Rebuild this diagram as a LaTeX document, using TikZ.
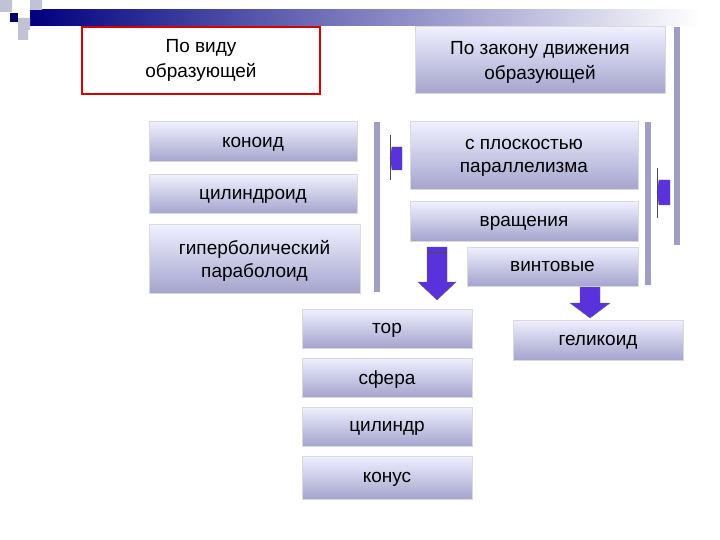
\documentclass[tikz,border=0pt]{standalone}
\usepackage{fontspec}
\setmainfont{Liberation Sans}
\definecolor{arr}{RGB}{90,50,220}
\begin{document}
\begin{tikzpicture}[x=1pt,y=-1pt,
 bx/.style={draw=white!70!gray,line width=1pt,top color=blue!6!white,bottom color=blue!30!gray!55!white,inner sep=0pt,font=\fontsize{19}{23}\selectfont,align=center,text depth=0pt},
 bar/.style={fill=blue!25!gray!60!white,draw=none},
 darr/.style={draw=black!60,fill=arr,line width=0.4pt}]
\useasboundingbox (0,0) rectangle (720,540);
% header decoration
\shade[left color=blue!50!black,right color=white] (30,10) rectangle (700,26);
\fill[blue!20!gray!40!white] (0,0) rectangle (12,12) (18,18) rectangle (30,30) (30,0) rectangle (42,10) (18,28) rectangle (28,40);
\fill[blue!40!black] (10,13) rectangle (18,22);
% nodes
\node[draw=red!85!black,line width=1.6pt,fill=white,minimum width=238,minimum height=67,align=center,inner sep=0pt,font=\fontsize{19}{25}\selectfont] (kind) at (201,60.5) {По виду\\образующей};
\node[bx,minimum width=250,minimum height=67,font=\fontsize{19}{25}\selectfont] (law) at (540,60.5) {По закону движения\\образующей};
\node[bx,minimum width=208,minimum height=40] (konoid) at (253,142) {коноид};
\node[bx,minimum width=208,minimum height=39] (cyl) at (253,194.5) {цилиндроид};
\node[bx,minimum width=211,minimum height=68] (hyp) at (254.5,259) {гиперболический\\параболоид};
\node[bx,minimum width=228,minimum height=68] (plane) at (524,156) {с плоскостью\\параллелизма};
\node[bx,minimum width=228,minimum height=39] (rot) at (524,221.5) {вращения};
\node[bx,minimum width=171,minimum height=39] (screw) at (552.5,266.5) {винтовые};
\node[bx,minimum width=170,minimum height=39] (tor) at (387,328.5) {тор};
\node[bx,minimum width=170,minimum height=39] (sph) at (387,377.5) {сфера};
\node[bx,minimum width=170,minimum height=39] (cyl2) at (387,426.5) {цилиндр};
\node[bx,minimum width=170,minimum height=43] (cone) at (387,477.5) {конус};
\node[bx,minimum width=170,minimum height=40] (hel) at (598,340) {геликоид};
% bars
\fill[bar] (374,122) rectangle (380,292);
\fill[bar] (645,122) rectangle (651,285);
\fill[bar] (674,27) rectangle (680,245);
% small left arrows
\draw[darr] (402,147) -- (402,170) -- (392,170) -- (390,158) -- (392,147) -- cycle;
\draw[black!70] (390,135) -- (390,180);
\draw[darr] (670,180) -- (670,205) -- (659,205) -- (657,192) -- (659,180) -- cycle;
\draw[black!70] (657,168) -- (657,218);
% down arrows
\coordinate (a1) at (437,300);
\coordinate (a2) at (590,318);
\draw[darr] (427,247) -- (447,247) -- (447,282) -- (456,282) -- (a1) -- (418,282) -- (427,282) -- cycle;
\draw[black!70] (427,252) -- (447,252);
\draw[darr] (580,287) -- (600,287) -- (600,303) -- (610,303) -- (a2) -- (570,303) -- (580,303) -- cycle;
\end{tikzpicture}
\end{document}
